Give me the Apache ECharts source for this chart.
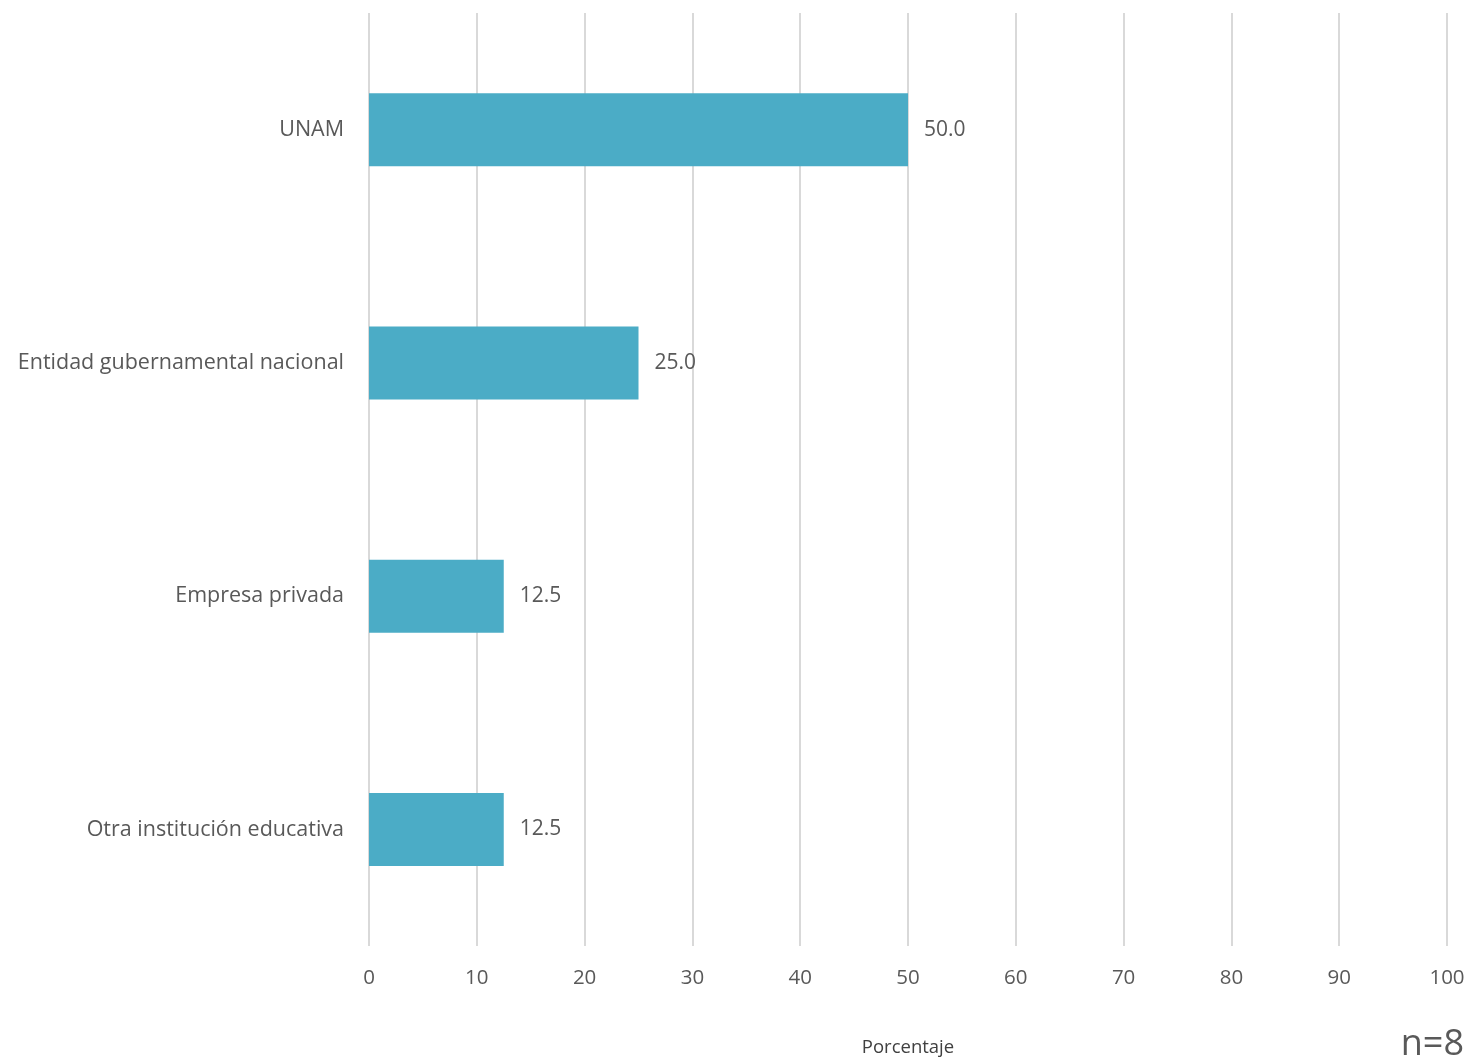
<!DOCTYPE html>
<html>
<head>
<meta charset="utf-8">
<script src="https://cdn.jsdelivr.net/npm/echarts@6/dist/echarts.min.js"></script>
<style>
html,body{margin:0;padding:0;background:#fff;}
#c{width:1470px;height:1064px;}
</style>
</head>
<body>
<div id="c"></div>
<script>
const categories = ["UNAM", "Entidad gubernamental nacional", "Empresa privada", "Otra institución educativa"];
const values = [50.0, 25.0, 12.5, 12.5];
const xTicks = [0, 10, 20, 30, 40, 50, 60, 70, 80, 90, 100];
const axisTitle = "Porcentaje";
const noteText = "n=8";

const FONT = "'Open Sans', Lato, sans-serif";
const chart = echarts.init(document.getElementById('c'));
chart.setOption({
  backgroundColor: '#ffffff',
  animation: false,
  grid: {left: 369, right: 23, top: 13, bottom: 118, containLabel: false},
  xAxis: {
    type: 'value',
    min: xTicks[0], max: xTicks[xTicks.length - 1], interval: 10,
    axisLine: {show: false},
    axisTick: {show: false},
    splitLine: {show: true, lineStyle: {color: '#d9d9d9', width: 2}},
    axisLabel: {color: '#595959', fontSize: 20.5, fontFamily: FONT, margin: 22},
    name: axisTitle,
    nameLocation: 'middle',
    nameGap: 92,
    nameTextStyle: {color: '#404040', fontSize: 18.5, fontFamily: FONT}
  },
  yAxis: {
    type: 'category',
    data: categories,
    inverse: true,
    axisLine: {show: false},
    axisTick: {show: false},
    axisLabel: {color: '#595959', fontSize: 21.5, fontFamily: FONT, margin: 25}
  },
  series: [{
    type: 'bar',
    data: values,
    barWidth: 73,
    itemStyle: {color: '#4BACC6'},
    label: {
      show: true, position: 'right', distance: 16,
      color: '#595959', fontSize: 21, fontFamily: FONT,
      formatter: p => p.value.toFixed(1)
    }
  }],
  graphic: [{
    type: 'text', right: 6, top: 1027,
    style: {text: noteText, fill: '#595959', fontSize: 36, fontFamily: FONT}
  }]
});
</script>
</body>
</html>
